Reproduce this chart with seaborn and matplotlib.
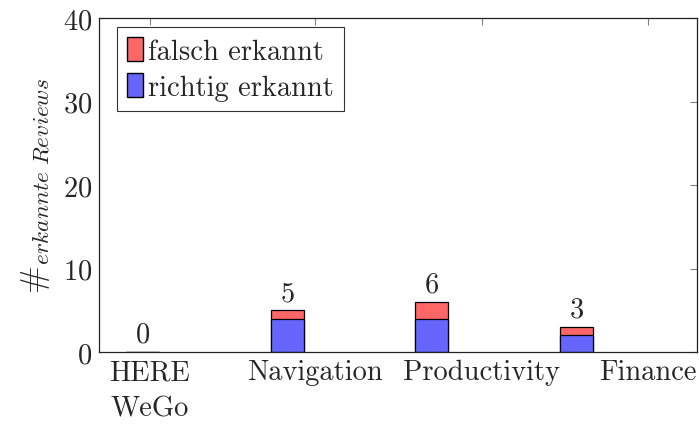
import numpy as np
import pandas as pd
import matplotlib
matplotlib.use('Agg')
import matplotlib.pyplot as plt
import seaborn as sns
from matplotlib.patches import Patch

# Daten
kategorien = ['HERE\nWeGo', 'Navigation', 'Productivity', 'Finance']
balken_pos = [0, 1, 2, 3]  # Position der Balken
tick_pos = [0.048, 1.19, 2.346, 3.495]  # Position der Beschriftungen
richtig = [0, 4, 4, 2]
falsch = [0, 1, 2, 1]
gesamt = [r + f for r, f in zip(richtig, falsch)]

sns.set_style('white')
plt.rcParams['font.family'] = ['cmr10', 'DejaVu Serif']
plt.rcParams['mathtext.fontset'] = 'cm'
plt.rcParams['axes.formatter.use_mathtext'] = True

fs = 20.5  # Schriftgroesse

fig = plt.figure(figsize=(6.99, 4.27), dpi=100)
ax = fig.add_axes([0.1416, 0.1733, 0.8554, 0.7822])

df = pd.DataFrame({'pos': balken_pos, 'gesamt': gesamt, 'richtig': richtig})

# gesamt (rot) zuerst, dann richtig (blau) darueber
sns.barplot(data=df, x='pos', y='gesamt', native_scale=True, width=0.228,
            color='#ff6666', saturation=1, edgecolor='black', linewidth=0.9, ax=ax)
sns.barplot(data=df, x='pos', y='richtig', native_scale=True, width=0.228,
            color='#6666ff', saturation=1, edgecolor='black', linewidth=0.9, ax=ax)

# Summen ueber den Balken
ax.bar_label(ax.containers[0], labels=[str(g) for g in gesamt], padding=3, fontsize=fs)

ax.set_xlim(-0.304, 3.834)
ax.set_ylim(0, 40)
ax.set_xticks(tick_pos)
ax.set_xticklabels(kategorien, fontsize=fs, linespacing=1.5)
ax.set_yticks([0, 10, 20, 30, 40])
ax.tick_params(axis='y', labelsize=fs)
ax.tick_params(direction='in', top=True, right=True, color='gray', length=5, width=0.8, pad=5)
ax.set_xlabel('')
ax.set_ylabel(r'$\#_{erkannte\ Reviews}$', fontsize=24, labelpad=8)

for s in ax.spines.values():
    s.set_color('#222222')
    s.set_linewidth(0.9)

handles = [Patch(facecolor='#ff6666', edgecolor='black', label='falsch erkannt'),
           Patch(facecolor='#6666ff', edgecolor='black', label='richtig erkannt')]
leg = ax.legend(handles=handles, loc='upper left', fontsize=fs, frameon=True,
                fancybox=False, edgecolor='black', handlelength=0.55, handleheight=0.9,
                handletextpad=0.2, borderpad=0.35, labelspacing=0.3,
                borderaxespad=0, bbox_to_anchor=(0.03, 0.973))
leg.get_frame().set_linewidth(0.8)

plt.savefig('out.png', dpi=100)
